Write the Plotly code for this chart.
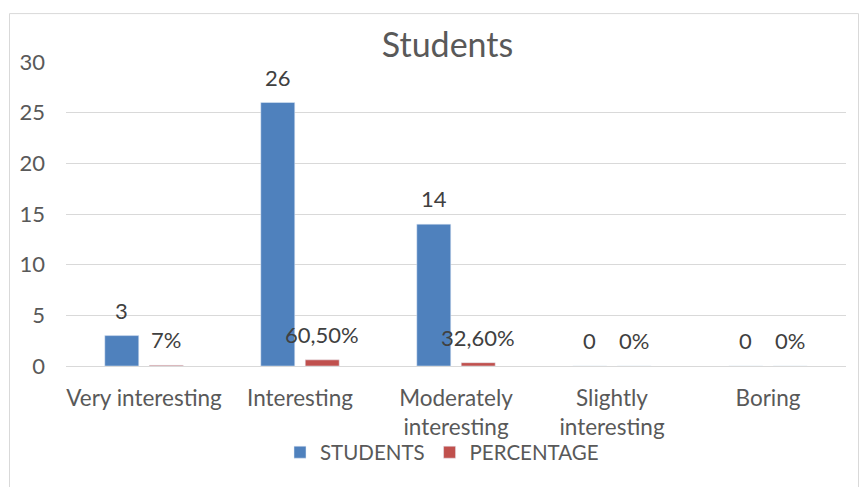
import plotly.graph_objects as go

categories = ["Very interesting", "Interesting", "Moderately<br>interesting", "Slightly<br>interesting", "Boring"]
students = [3, 26, 14, 0, 0]
percentage = [0.07, 0.605, 0.326, 0, 0]
student_labels = ["3", "26", "14", "0", "0"]
percentage_labels = ["7%", "60,50%", "32,60%", "0%", "0%"]
y_ticks = [0, 5, 10, 15, 20, 25, 30]

BLUE = "#4F81BD"
RED = "#C0504D"
TXT = "#595959"
FONT = "Lato, 'Open Sans', sans-serif"

W, H = 859, 487
L, R, T, B = 66, 859 - 846, 62, 487 - 366.5
PW, PH = W - L - R, H - T - B

fig = go.Figure()
fig.add_trace(go.Bar(x=categories, y=students, name="STUDENTS", marker_color=BLUE))
fig.add_trace(go.Bar(x=categories, y=percentage, name="PERCENTAGE", marker_color=RED))

offset = 22.25
for i in range(len(categories)):
    fig.add_annotation(x=i, y=students[i], text=student_labels[i], showarrow=False,
                       xref="x", yref="y", yanchor="bottom", yshift=10, xshift=-offset,
                       font=dict(family=FONT, size=22, color="#404040"))
    fig.add_annotation(x=i, y=percentage[i], text=percentage_labels[i], showarrow=False,
                       xref="x", yref="y", yanchor="bottom", yshift=10, xshift=offset,
                       font=dict(family=FONT, size=22, color="#404040"))

def px_x(px):
    return (px - L) / PW

def px_y(py):
    return (H - B - py) / PH

fig.add_shape(type="rect", xref="paper", yref="paper",
              x0=px_x(9.5), x1=px_x(858.5), y0=px_y(560), y1=px_y(13.5),
              line=dict(color="#D9D9D9", width=1), fillcolor="rgba(0,0,0,0)", layer="below")

fig.update_layout(
    width=W, height=H,
    margin=dict(l=L, r=R, t=T, b=B),
    paper_bgcolor="white", plot_bgcolor="white",
    barmode="group", bargap=0.43, bargroupgap=0.236,
    font=dict(family=FONT, size=22, color=TXT),
    title=dict(text="Students", x=447.5 / W, xanchor="center", y=1 - 45 / H, yanchor="middle",
               font=dict(family=FONT, size=34, color=TXT)),
    showlegend=True,
    legend=dict(orientation="h", x=px_x(442), xanchor="center", y=px_y(453), yanchor="middle",
                font=dict(family=FONT, size=20.5, color=TXT), bgcolor="rgba(0,0,0,0)"),
    xaxis=dict(type="category", showgrid=False, showline=False, zeroline=False, ticks="",
               ticklabelstandoff=16, tickfont=dict(family=FONT, size=22.5, color=TXT)),
    yaxis=dict(range=[0, 30], tickvals=y_ticks, showgrid=True, gridcolor="#D9D9D9", gridwidth=1.3,
               zeroline=True, zerolinecolor="#D9D9D9", zerolinewidth=1.3, showline=False,
               ticks="", ticklabelstandoff=20, tickfont=dict(family=FONT, size=22, color=TXT)),
)

fig.write_html("out.html")
